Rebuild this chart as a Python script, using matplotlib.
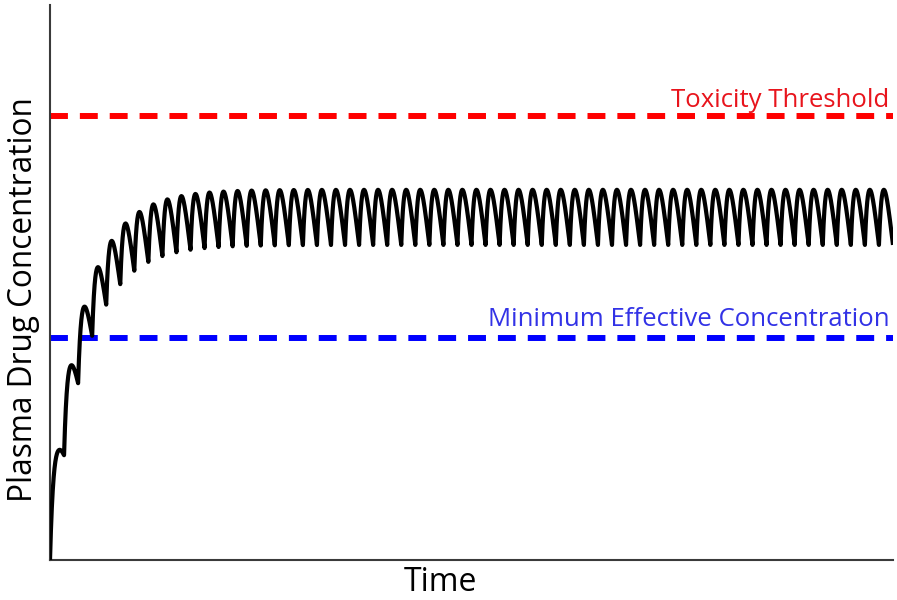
import matplotlib.pyplot as plt
import numpy as np

plt.rcParams['font.family'] = ['Open Sans', 'DejaVu Sans']

# dosing schedule (one dose per interval) and one-compartment oral model
n_doses = 60
t_end = 60.0
ka = 3.5      # absorption rate per dosing interval
ke = 0.42     # elimination rate per dosing interval
ss_peak = 66.7

toxicity = 80.0
mec = 40.0

dose_times = np.arange(n_doses)
t = np.linspace(0, t_end, 12001)
conc = np.zeros_like(t)
for td in dose_times:
    dt = t - td
    m = dt > 0
    conc[m] += np.exp(-ke * dt[m]) - np.exp(-ka * dt[m])
conc = conc / conc.max() * ss_peak

fig = plt.figure(figsize=(8.97, 6), dpi=100)
ax = fig.add_axes([50 / 897, 40 / 600, 843 / 897, 555 / 600])

ax.plot(t, conc, color='black', lw=3, solid_capstyle='butt', zorder=3)
ax.axhline(toxicity, color='#ff0000', lw=4.3, dashes=(3, 2), zorder=2)
ax.axhline(mec, color='#0000ff', lw=4.3, dashes=(3, 2), zorder=2)

ax.text(t_end * 0.996, toxicity + 1.7, 'Toxicity Threshold', color='#e8141c',
        fontsize=18.5, ha='right', va='baseline')
ax.text(t_end * 0.996, mec + 2.1, 'Minimum Effective Concentration', color='#3232e6',
        fontsize=18.5, ha='right', va='baseline')

ax.set_xlim(0, t_end)
ax.set_ylim(0, 100)
ax.set_xticks([])
ax.set_yticks([])
for s in ['top', 'right']:
    ax.spines[s].set_visible(False)
for s in ['left', 'bottom']:
    ax.spines[s].set_color('#3a3a3a')
    ax.spines[s].set_linewidth(1.5)

ax.set_xlabel('Time', fontsize=23)
ax.set_ylabel('Plasma Drug Concentration', fontsize=22.7)
ax.xaxis.set_label_coords(0.4626, -0.056, transform=ax.transAxes)
ax.xaxis.label.set_va('baseline')
ax.yaxis.set_label_coords(-0.032, 0.47, transform=ax.transAxes)
ax.yaxis.label.set_va('center')

fig.savefig('out.png', dpi=100)
